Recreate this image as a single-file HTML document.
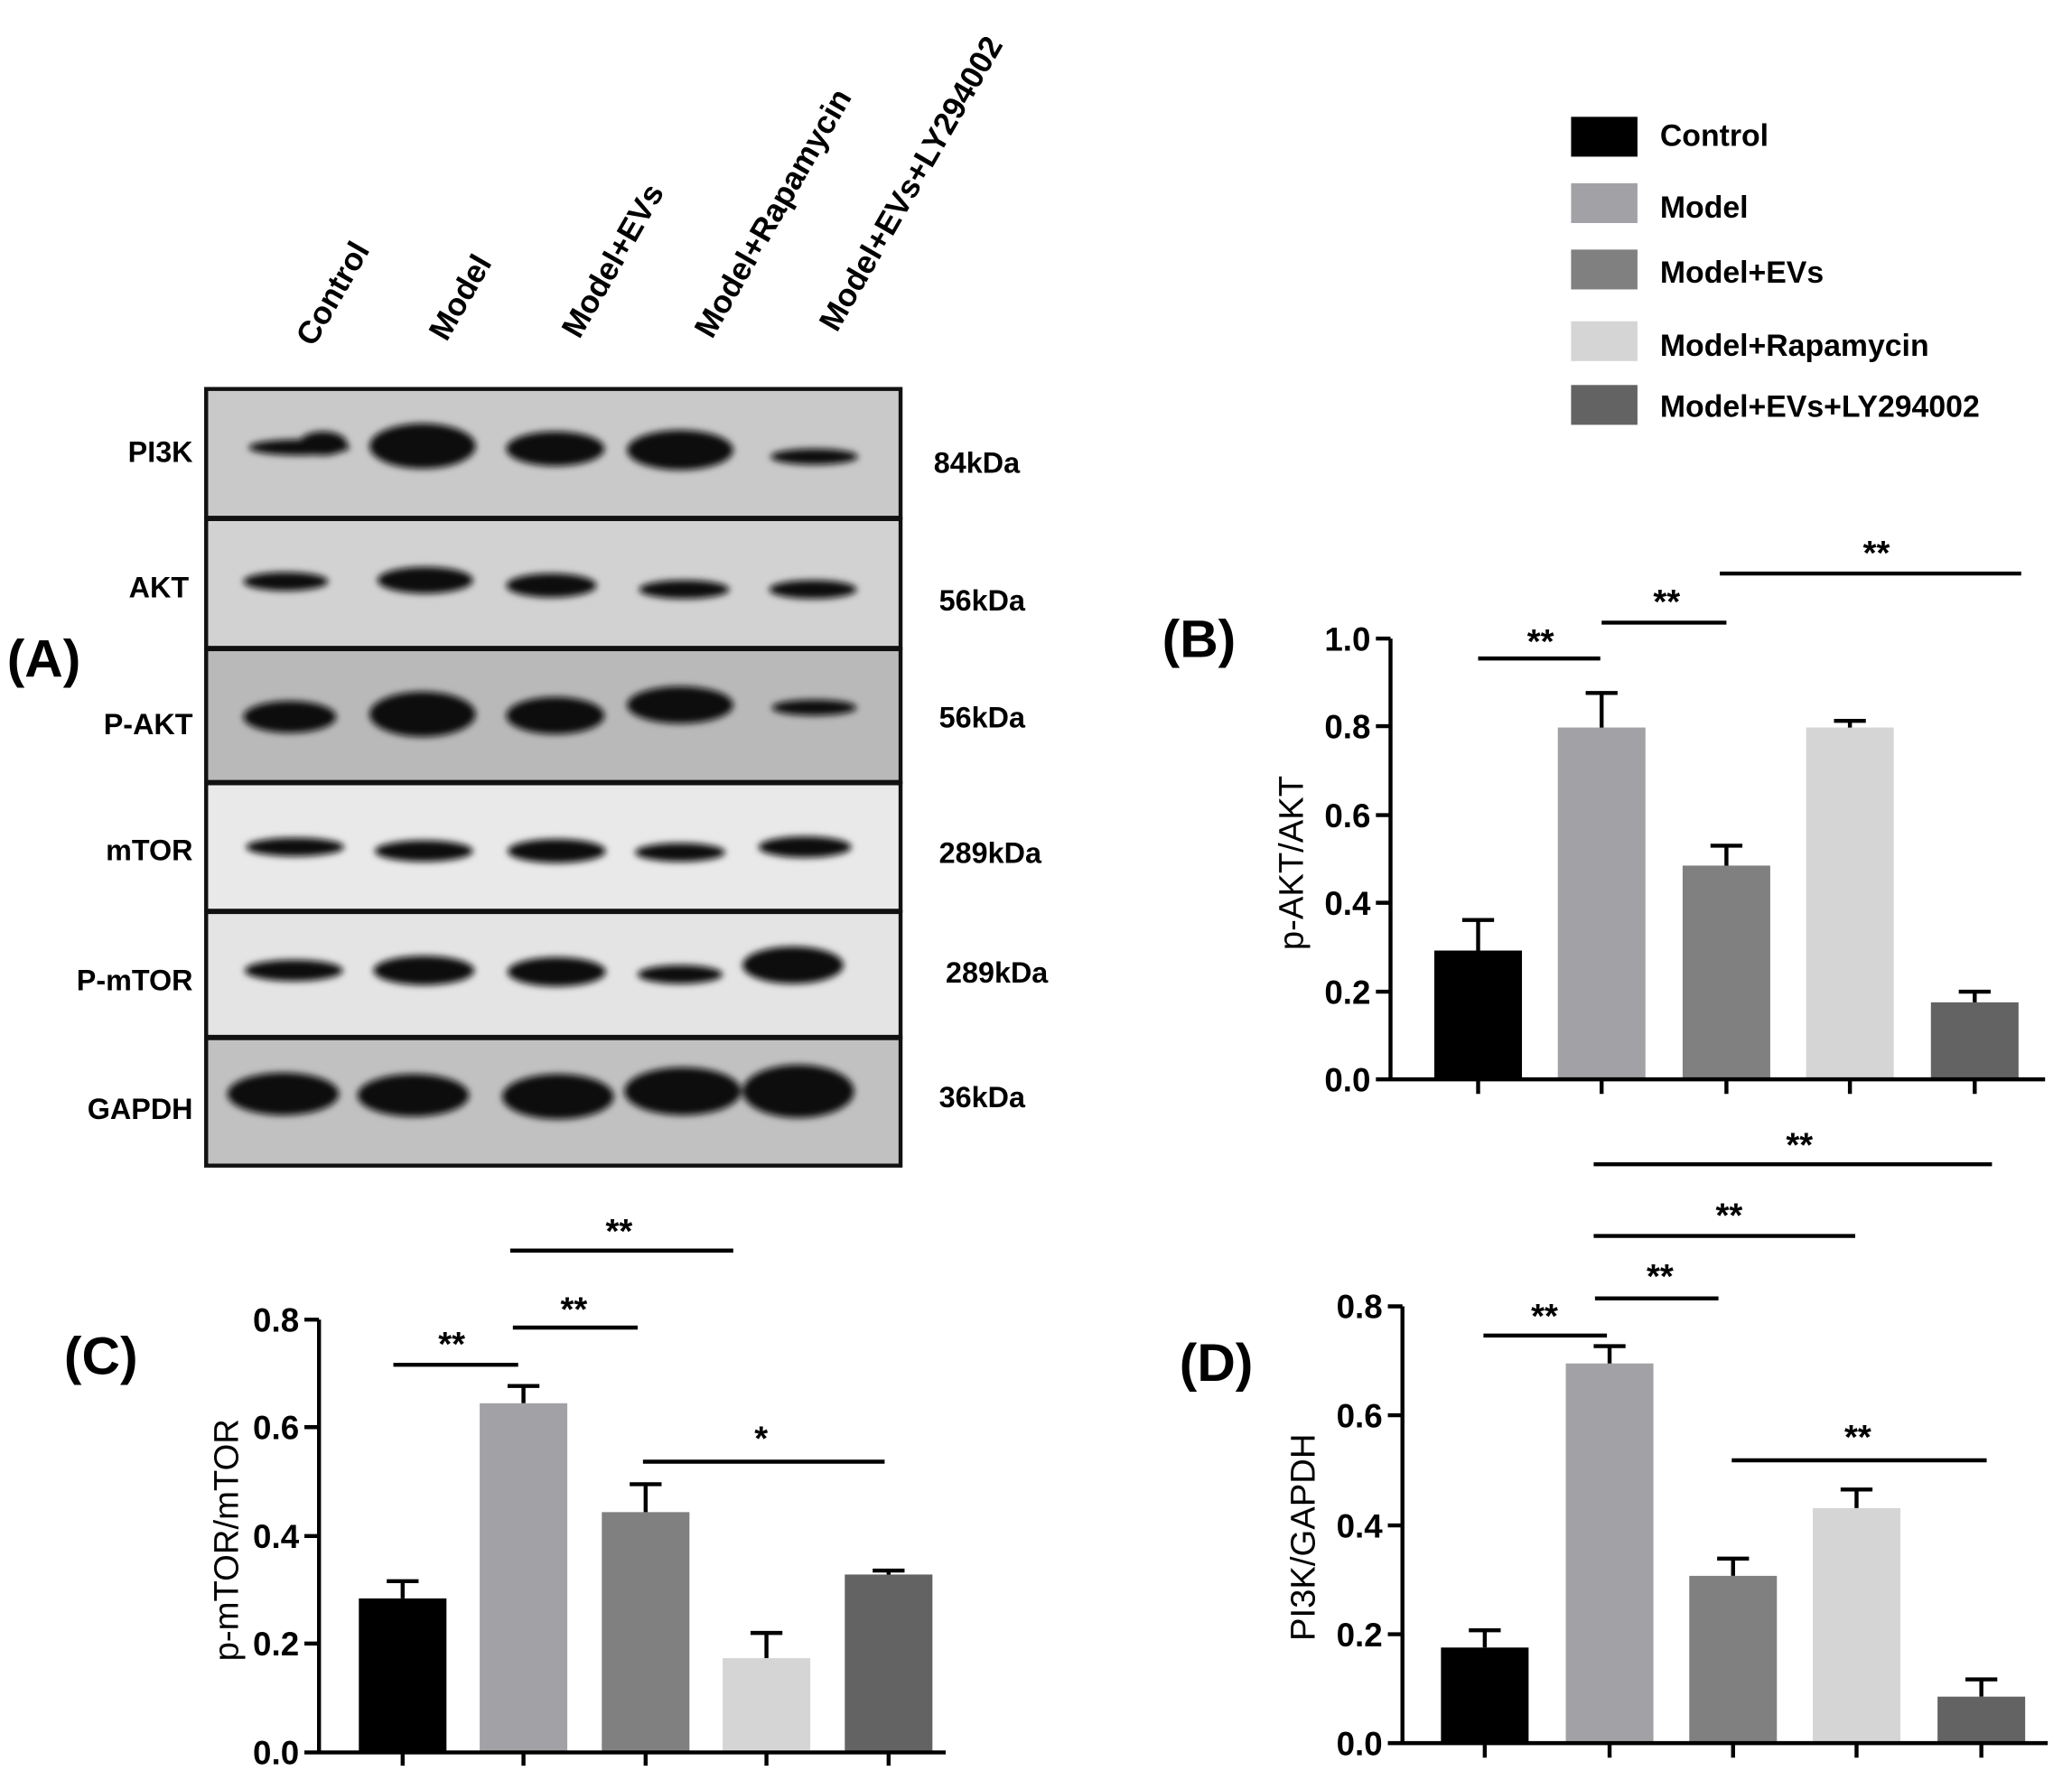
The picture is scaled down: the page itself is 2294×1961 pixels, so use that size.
<!DOCTYPE html>
<html><head><meta charset="utf-8"><style>
html,body{margin:0;padding:0;background:#fff}
svg{display:block}
text{font-family:"Liberation Sans",sans-serif}
.b{font-weight:bold}
.t{font-weight:bold;font-size:25px}
.s{font-weight:bold;font-size:26px}
.y{font-size:26px}
</style></head><body>
<svg width="2294" height="1961" viewBox="0 0 1560 1334" xmlns="http://www.w3.org/2000/svg">
<defs><filter id="bl" x="-20%" y="-50%" width="140%" height="200%"><feGaussianBlur stdDeviation="2.5"/></filter></defs>
<!-- column labels -->
<g class="b" font-size="24">
<text transform="translate(236,262) rotate(-60)">Control</text>
<text transform="translate(336,258) rotate(-60)">Model</text>
<text transform="translate(436,256) rotate(-60)">Model+EVs</text>
<text transform="translate(536,256) rotate(-60)">Model+Rapamycin</text>
<text transform="translate(630,251) rotate(-60)">Model+EVs+LY294002</text>
</g>
<!-- blot -->
<g stroke="#111" stroke-width="3">
<rect x="155" y="293" width="523" height="97" fill="#c9c9c9"/>
<rect x="155" y="391" width="523" height="97" fill="#d2d2d2"/>
<rect x="155" y="489" width="523" height="100" fill="#b9b9b9"/>
<rect x="155" y="590" width="523" height="96" fill="#e9e9e9"/>
<rect x="155" y="687" width="523" height="94" fill="#e4e4e4"/>
<rect x="155" y="782" width="523" height="96" fill="#c1c1c1"/>
</g>
<g fill="#0a0a0a" filter="url(#bl)">
<ellipse cx="225" cy="337" rx="38" ry="6"/><ellipse cx="243" cy="334" rx="18" ry="9"/>
<ellipse cx="318" cy="336" rx="40" ry="17"/><ellipse cx="418" cy="338" rx="37" ry="13"/>
<ellipse cx="512" cy="339" rx="40" ry="15"/><ellipse cx="613" cy="344" rx="33" ry="6"/>
<ellipse cx="215" cy="438" rx="32" ry="7"/><ellipse cx="320" cy="437" rx="36" ry="10"/>
<ellipse cx="415" cy="441" rx="34" ry="9"/><ellipse cx="515" cy="444" rx="34" ry="7"/>
<ellipse cx="612" cy="444" rx="33" ry="7"/>
<ellipse cx="218" cy="540" rx="35" ry="12"/><ellipse cx="318" cy="538" rx="40" ry="17"/>
<ellipse cx="418" cy="539" rx="37" ry="14"/><ellipse cx="512" cy="531" rx="40" ry="14"/>
<ellipse cx="613" cy="533" rx="32" ry="6"/>
<ellipse cx="222" cy="638" rx="37" ry="7"/><ellipse cx="319" cy="641" rx="37" ry="8"/>
<ellipse cx="419" cy="641" rx="37" ry="9"/><ellipse cx="512" cy="642" rx="34" ry="7"/>
<ellipse cx="606" cy="638" rx="35" ry="8"/>
<ellipse cx="221" cy="731" rx="37" ry="8"/><ellipse cx="319" cy="731" rx="38" ry="11"/>
<ellipse cx="419" cy="732" rx="37" ry="11"/><ellipse cx="512" cy="734" rx="32" ry="7"/>
<ellipse cx="597" cy="727" rx="38" ry="14"/>
<ellipse cx="213" cy="824" rx="42" ry="16"/><ellipse cx="311" cy="825" rx="42" ry="16"/>
<ellipse cx="420" cy="826" rx="42" ry="17"/><ellipse cx="514" cy="822" rx="44" ry="18"/>
<ellipse cx="601" cy="822" rx="42" ry="20"/>
</g>
<g class="b" font-size="22" text-anchor="end">
<text x="145" y="348">PI3K</text><text x="142" y="450">AKT</text><text x="145" y="553">P-AKT</text>
<text x="145" y="648">mTOR</text><text x="145" y="746">P-mTOR</text><text x="145" y="843">GAPDH</text>
</g>
<g class="b" font-size="22">
<text x="703" y="356">84kDa</text><text x="707" y="460">56kDa</text><text x="707" y="548">56kDa</text>
<text x="707" y="650">289kDa</text><text x="712" y="740">289kDa</text><text x="707" y="834">36kDa</text>
</g>
<g class="b" font-size="40">
<text x="5" y="510">(A)</text><text x="875" y="495">(B)</text><text x="48" y="1035">(C)</text><text x="888" y="1040">(D)</text>
</g>
<!-- legend -->
<rect x="1183" y="88" width="50" height="30" fill="#000"/>
<rect x="1183" y="138" width="50" height="30" fill="#a2a2a6"/>
<rect x="1183" y="188" width="50" height="30" fill="#808080"/>
<rect x="1183" y="242" width="50" height="30" fill="#d5d5d5"/>
<rect x="1183" y="290" width="50" height="30" fill="#636363"/>
<g class="b" font-size="23">
<text x="1250" y="110">Control</text><text x="1250" y="164">Model</text><text x="1250" y="213">Model+EVs</text>
<text x="1250" y="268">Model+Rapamycin</text><text x="1250" y="314">Model+EVs+LY294002</text>
</g>
<!-- B -->
<g>
<rect x="1080" y="716" width="66" height="97" fill="#000"/>
<rect x="1173" y="548" width="66" height="265" fill="#a2a2a6"/>
<rect x="1267" y="652" width="66" height="161" fill="#808080"/>
<rect x="1360" y="548" width="66" height="265" fill="#d5d5d5"/>
<rect x="1454" y="755" width="66" height="58" fill="#636363"/>
<g stroke="#000" stroke-width="3" fill="none">
<path d="M1113 716V693M1101 693H1125M1206 548V522M1194 522H1218M1300 652V637M1288 637H1312M1393 548V543M1381 543H1405M1487 755V747M1475 747H1499"/>
<path d="M1047 481V813M1036 813H1540M1036 481H1047M1036 547H1047M1036 614H1047M1036 680H1047M1036 747H1047"/>
<path d="M1113 813V824M1206 813V824M1300 813V824M1393 813V824M1487 813V824"/>
<path d="M1113 496H1205M1206 469H1300M1295 432H1522M1200 877H1500M1200 931H1397"/>
</g>
<g class="t" text-anchor="end"><text x="1032" y="490">1.0</text><text x="1032" y="556">0.8</text><text x="1032" y="623">0.6</text><text x="1032" y="689">0.4</text><text x="1032" y="756">0.2</text><text x="1032" y="822">0.0</text></g>
<text class="y" transform="translate(981,650) rotate(-90)" text-anchor="middle">p-AKT/AKT</text>
<g class="s" text-anchor="middle"><text x="1160" y="492">**</text><text x="1255" y="462">**</text><text x="1413" y="425">**</text><text x="1355" y="871">**</text><text x="1302" y="924">**</text></g>
</g>
<!-- C -->
<g>
<rect x="270" y="1204" width="66" height="116" fill="#000"/>
<rect x="361" y="1057" width="66" height="263" fill="#a2a2a6"/>
<rect x="453" y="1139" width="66" height="181" fill="#808080"/>
<rect x="544" y="1249" width="66" height="71" fill="#d5d5d5"/>
<rect x="636" y="1186" width="66" height="134" fill="#636363"/>
<g stroke="#000" stroke-width="3" fill="none">
<path d="M303 1204V1191M291 1191H315M394 1057V1044M382 1044H406M486 1139V1118M474 1118H498M577 1249V1230M565 1230H589M669 1186V1183M657 1183H681"/>
<path d="M240 994V1320M229 1320H712M229 994H240M229 1075H240M229 1157H240M229 1238H240"/>
<path d="M303 1320V1330M394 1320V1330M486 1320V1330M577 1320V1330M669 1320V1330"/>
<path d="M296 1028H390M386 1000H480M384 942H552M484 1101H666"/>
</g>
<g class="t" text-anchor="end"><text x="225" y="1003">0.8</text><text x="225" y="1084">0.6</text><text x="225" y="1166">0.4</text><text x="225" y="1247">0.2</text><text x="225" y="1329">0.0</text></g>
<text class="y" transform="translate(179,1160) rotate(-90)" text-anchor="middle">p-mTOR/mTOR</text>
<g class="s" text-anchor="middle"><text x="340" y="1021">**</text><text x="432" y="995">**</text><text x="466" y="936">**</text><text x="573" y="1092">*</text></g>
</g>
<!-- D -->
<g>
<rect x="1085" y="1241" width="66" height="72" fill="#000"/>
<rect x="1179" y="1027" width="66" height="286" fill="#a2a2a6"/>
<rect x="1272" y="1187" width="66" height="126" fill="#808080"/>
<rect x="1365" y="1136" width="66" height="177" fill="#d5d5d5"/>
<rect x="1459" y="1278" width="66" height="35" fill="#636363"/>
<g stroke="#000" stroke-width="3" fill="none">
<path d="M1118 1241V1228M1106 1228H1130M1212 1027V1014M1200 1014H1224M1305 1187V1174M1293 1174H1317M1398 1136V1122M1386 1122H1410M1492 1278V1265M1480 1265H1504"/>
<path d="M1056 984V1313M1045 1313H1542M1045 984H1056M1045 1066H1056M1045 1149H1056M1045 1231H1056"/>
<path d="M1118 1313V1324M1212 1313V1324M1305 1313V1324M1398 1313V1324M1492 1313V1324"/>
<path d="M1117 1006H1210M1201 978H1294M1304 1100H1496"/>
</g>
<g class="t" text-anchor="end"><text x="1041" y="993">0.8</text><text x="1041" y="1075">0.6</text><text x="1041" y="1158">0.4</text><text x="1041" y="1240">0.2</text><text x="1041" y="1322">0.0</text></g>
<text class="y" transform="translate(990,1158) rotate(-90)" text-anchor="middle">PI3K/GAPDH</text>
<g class="s" text-anchor="middle"><text x="1163" y="1000">**</text><text x="1250" y="970">**</text><text x="1399" y="1091">**</text></g>
</g>
</svg>
</body></html>
